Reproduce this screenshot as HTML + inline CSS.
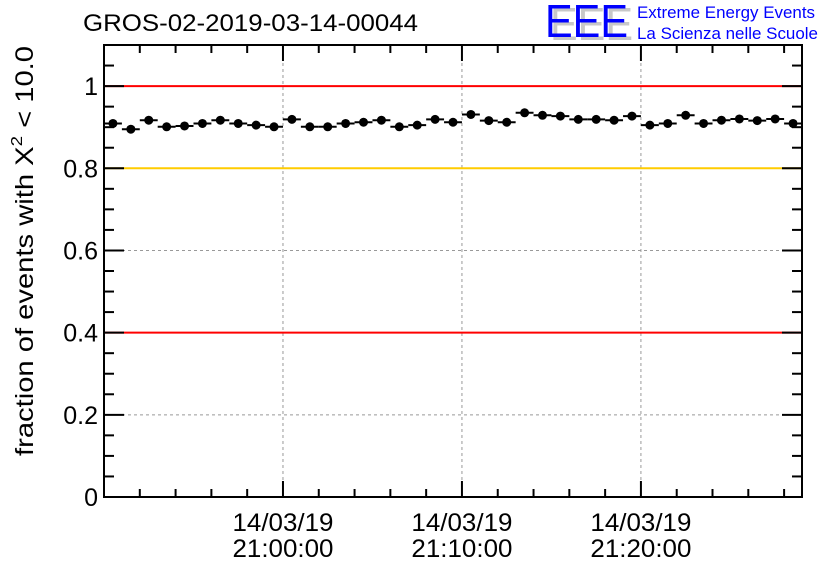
<!DOCTYPE html>
<html><head><meta charset="utf-8"><style>
html,body{margin:0;padding:0;background:#fff;}
svg{display:block;font-family:"Liberation Sans",sans-serif;}
</style></head><body>
<svg id="chart" width="836" height="572" viewBox="0 0 836 572">
<text x="83" y="31" font-size="24" fill="#000" textLength="335" lengthAdjust="spacingAndGlyphs">GROS-02-2019-03-14-00044</text>
<g>
<text x="550" y="40" font-size="46" fill="#c8c8c8" textLength="83" lengthAdjust="spacingAndGlyphs">EEE</text>
<text x="545" y="37" font-size="46" fill="#0000ff" textLength="83" lengthAdjust="spacingAndGlyphs">EEE</text>
<text x="637" y="18" font-size="17" fill="#0000ff" textLength="178" lengthAdjust="spacingAndGlyphs">Extreme Energy Events</text>
<text x="637" y="39" font-size="17" fill="#0000ff" textLength="181" lengthAdjust="spacingAndGlyphs">La Scienza nelle Scuole</text>
</g>
<g id="grid"></g>
<g id="refs"></g>
<g id="axes"></g>
<g id="points"></g>
<text transform="translate(33,251) rotate(-90)" text-anchor="middle" font-size="25" fill="#000" textLength="410" lengthAdjust="spacingAndGlyphs">fraction of events with X<tspan font-size="16" dy="-11">2</tspan><tspan dy="11"> &lt; 10.0</tspan></text>
</svg>
<script>
const values=[0.909,0.895,0.917,0.901,0.903,0.909,0.917,0.909,0.905,0.901,0.919,0.901,0.901,0.909,0.912,0.917,0.901,0.905,0.919,0.912,0.931,0.916,0.912,0.935,0.929,0.927,0.919,0.919,0.917,0.927,0.905,0.909,0.929,0.909,0.917,0.920,0.916,0.920,0.909];
const yTicks=[0,0.2,0.4,0.6,0.8,1];
const yTickLabels=["0","0.2","0.4","0.6","0.8","1"];
const xMajorMinutes=[10,20,30];
const xMajorLabels=[["14/03/19","21:00:00"],["14/03/19","21:10:00"],["14/03/19","21:20:00"]];
const refLevels=[1,0.8,0.4];
const refColors=["#ff0000","#ffcc00","#ff0000"];
const L=104,R=802,T=45,B=497,xMax=39,yMax=1.1;
const X=m=>L+(R-L)*m/xMax, Y=v=>B-(B-T)*v/yMax;
const NS="http://www.w3.org/2000/svg";
function mk(p,t,a){const e=document.createElementNS(NS,t);for(const k in a)e.setAttribute(k,a[k]);p.appendChild(e);return e;}
const grid=document.getElementById('grid'),refs=document.getElementById('refs'),axes=document.getElementById('axes'),pts=document.getElementById('points');
yTicks.forEach((v,i)=>{if(v>0){const g=mk(grid,'line',{x1:L,x2:R,y1:Y(v),y2:Y(v),stroke:'#999','stroke-dasharray':'3,3'});

}
const t=mk(axes,'text',{x:L-6,y:Y(v)+9,'text-anchor':'end','font-size':25});t.textContent=yTickLabels[i];

});
xMajorMinutes.forEach((m,i)=>{const g=mk(grid,'line',{x1:X(m),x2:X(m),y1:T,y2:B,stroke:'#999','stroke-dasharray':'3,3'});


xMajorLabels[i].forEach((s,j)=>{const t=mk(axes,'text',{x:X(m),y:531+j*26,'text-anchor':'middle','font-size':25,textLength:101,lengthAdjust:'spacingAndGlyphs'});t.textContent=s;

});});
refLevels.forEach((v,i)=>{const l=mk(refs,'line',{x1:L,x2:R,y1:Y(v),y2:Y(v),stroke:refColors[i],'stroke-width':2});

});
const fr=mk(axes,'rect',{x:L,y:T,width:R-L,height:B-T,fill:'none',stroke:'#000','stroke-width':2});


for(let k=0;k<=22;k++){const v=k*0.05,y=Y(v),len=(k%4==0)?20:10;
mk(axes,'line',{x1:L,x2:L+len,y1:y,y2:y,stroke:'#000','stroke-width':2});
mk(axes,'line',{x1:R,x2:R-len,y1:y,y2:y,stroke:'#000','stroke-width':2});}
for(let m=0;m<=38;m+=2){const x=X(m),len=(m%10==0)?16:8;
mk(axes,'line',{x1:x,x2:x,y1:B,y2:B-len,stroke:'#000','stroke-width':2});
mk(axes,'line',{x1:x,x2:x,y1:T,y2:T+len,stroke:'#000','stroke-width':2});}
values.forEach((v,i)=>{const g=mk(pts,'g',{});


mk(g,'line',{x1:X(i),x2:X(i+1),y1:Y(v),y2:Y(v),stroke:'#000','stroke-width':2});
mk(g,'circle',{cx:X(i+0.5),cy:Y(v),r:4.5,fill:'#000'});});
</script>
</body></html>
